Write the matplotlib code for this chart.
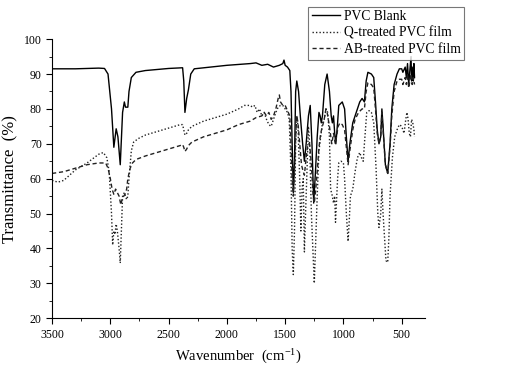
import numpy as np
import matplotlib
matplotlib.use('Agg')
import matplotlib.pyplot as plt

plt.rcParams['font.family'] = ['Liberation Serif', 'DejaVu Serif']
plt.rcParams['mathtext.fontset'] = 'stix'

# PVC blank spectrum (wavenumber, transmittance)
wn_blank = [3500, 3300, 3100, 3050, 3020, 2990, 2970, 2950, 2935, 2915, 2895, 2880, 2870, 2850,
            2840, 2820, 2780, 2700, 2500, 2380, 2370, 2360, 2345, 2330, 2310, 2280, 2000, 1800,
            1750, 1700, 1650, 1600, 1550, 1520, 1510, 1500, 1480, 1460, 1450, 1440, 1430, 1420,
            1410, 1400, 1385, 1370, 1350, 1335, 1320, 1300, 1285, 1270, 1255, 1240, 1225, 1210,
            1200, 1190, 1180, 1160, 1140, 1120, 1105, 1095, 1085, 1075, 1065, 1050, 1040, 1010,
            990, 975, 960, 945, 920, 900, 880, 860, 840, 820, 805, 790, 760, 740, 725, 710, 695,
            680, 670, 660, 640, 620, 600, 585, 565, 540, 520, 500, 490, 470, 460, 450, 440, 430,
            420, 415, 410, 400, 395, 390]
t_blank = [91.5, 91.5, 91.7, 91.6, 90, 80, 69, 74.3, 72, 64, 79, 82, 80.5, 80.5,
           85, 89, 90.5, 91, 91.6, 91.8, 88, 79, 83, 85.5, 90, 91.5, 92.5, 93,
           93.2, 92.5, 92.8, 92, 92.5, 93, 94, 92.5, 92, 91, 85, 70, 56, 65,
           85, 88, 85, 78, 70, 65, 70, 78, 81, 70, 53, 62, 72, 79,
           78, 76, 78, 87, 90, 85, 78, 76, 78, 73, 70, 76, 81, 82,
           80, 72, 65, 70, 76, 78, 80, 82, 83, 82, 88, 90.5, 90, 89, 82, 74, 70,
           72, 80, 75, 64, 61.5, 70, 80, 87, 90, 91.5, 91.5, 90.5, 92, 89, 93, 87, 91,
           95, 88, 92, 88, 93, 89]

# Q-treated PVC film
wn_q = [3500, 3450, 3400, 3350, 3300, 3200, 3100, 3060, 3030, 3010, 2990, 2980, 2970, 2960,
        2950, 2940, 2925, 2915, 2905, 2895, 2880, 2860, 2850, 2840, 2820, 2800, 2760, 2700,
        2600, 2500, 2400, 2380, 2370, 2360, 2345, 2330, 2300, 2200, 2100, 2000, 1900, 1850,
        1800, 1780, 1760, 1740, 1720, 1700, 1680, 1660, 1640, 1620, 1600, 1580, 1560, 1540,
        1520, 1500, 1480, 1465, 1450, 1440, 1430, 1420, 1410, 1400, 1390, 1375, 1365, 1355,
        1345, 1335, 1325, 1310, 1300, 1290, 1275, 1260, 1250, 1240, 1225, 1210, 1195, 1180,
        1165, 1150, 1135, 1120, 1110, 1095, 1085, 1075, 1068, 1060, 1050, 1040, 1020, 1000,
        990, 975, 960, 950, 940, 920, 900, 880, 860, 845, 830, 820, 800, 780, 760, 740, 720,
        705, 695, 680, 670, 660, 645, 635, 620, 610, 600, 580, 560, 540, 520, 500, 480, 465,
        455, 445, 435, 425, 415, 405, 395, 390]
t_q = [59.5, 59, 59.5, 61, 62.5, 64.5, 67, 67.5, 66, 62, 50, 41, 45, 44,
       47, 45, 40, 35.8, 45, 55, 56, 54, 55, 60, 68, 70.5, 71.5, 72.5,
       73.5, 74.5, 75.5, 75.5, 74, 72.5, 73, 74, 75, 76.5, 77.5, 78.5, 80, 81,
       81, 80.5, 81, 79, 80, 78, 79, 77, 75.5, 75, 77, 79, 80.5, 81,
       81, 80, 79, 77, 62, 40, 32.5, 45, 70, 78, 75, 60, 45, 57,
       60, 39, 50, 65, 75, 70, 50, 38, 30, 40, 55, 68, 72, 76,
       77, 80, 79, 72, 57, 55, 53, 55, 47.5, 53, 60, 64.5, 65, 64.5,
       60, 50, 42, 48, 55, 57, 62, 66, 67.5, 66, 65, 70, 79, 79.5, 79, 76, 63,
       50, 46, 50, 57, 50, 42, 36.5, 36, 43, 55, 66, 72, 74, 75.5, 75, 73, 77,
       79, 77, 73, 72, 77, 76, 74, 72]

# AB-treated PVC film
wn_ab = [3500, 3400, 3300, 3200, 3100, 3040, 3020, 3000, 2985, 2970, 2955, 2940, 2925, 2910,
         2900, 2885, 2875, 2860, 2850, 2830, 2810, 2780, 2700, 2600, 2500, 2400, 2380, 2370,
         2360, 2345, 2330, 2300, 2200, 2100, 2000, 1900, 1800, 1750, 1700, 1680, 1660, 1640,
         1620, 1600, 1580, 1560, 1550, 1540, 1520, 1500, 1480, 1460, 1450, 1440, 1430, 1420,
         1410, 1400, 1390, 1375, 1360, 1345, 1335, 1320, 1305, 1290, 1275, 1260, 1250, 1240,
         1225, 1210, 1195, 1180, 1165, 1150, 1140, 1120, 1100, 1085, 1070, 1060, 1045, 1030,
         1010, 990, 975, 960, 945, 920, 900, 870, 840, 820, 805, 790, 760, 740, 725, 710, 695,
         680, 670, 660, 640, 620, 600, 585, 565, 540, 520, 500, 490, 470, 460, 450, 440, 430,
         420, 410, 400, 390]
t_ab = [61.5, 62, 63, 64, 64.5, 64.5, 63, 60, 57, 55.5, 57, 56, 55, 52.5,
        54, 55, 55.5, 57, 60, 63, 64.5, 65.5, 66.5, 67.5, 68.5, 69.5, 69.8, 69,
        67.8, 68.5, 69.5, 70.5, 72, 73, 74, 75.5, 76.5, 77.5, 78, 79, 78, 79,
        77, 78, 80, 83, 84, 82, 81, 81, 79.5, 78, 70, 60, 55, 62,
        72, 78, 76, 70, 64, 62, 61, 66, 70, 70, 64, 55, 53, 56,
        62, 69, 73, 75, 77, 80, 79, 75, 70, 73, 70, 72, 75, 76,
        75.5, 74, 69, 64, 68, 74, 77, 79, 80, 80, 85, 87.5, 87, 86, 80, 73, 70,
        72, 79, 74, 64, 61.5, 69, 78, 85, 88, 88.5, 88.5, 87, 89, 87, 90, 86, 88,
        90, 87, 89, 87]

labels = ['PVC Blank', 'Q-treated PVC film', 'AB-treated PVC film']

fig = plt.figure(figsize=(5.26, 3.73), dpi=100)
ax = fig.add_axes([0.099, 0.147, 0.709, 0.748])

ax.plot(wn_blank, t_blank, color='black', lw=1.0, ls='-', label=labels[0])
ax.plot(wn_q, t_q, color='#222222', lw=1.0, ls=(0, (1, 1.5)), label=labels[1])
ax.plot(wn_ab, t_ab, color='#222222', lw=1.0, ls=(0, (3, 2)), label=labels[2])

ax.set_xlim(3500, 300)
ax.set_ylim(20, 100)
ax.set_xticks([3500, 3000, 2500, 2000, 1500, 1000, 500])
ax.set_xticks(np.arange(3250, 299, -500), minor=True)
ax.set_yticks(np.arange(20, 101, 10))
ax.set_yticks(np.arange(25, 100, 10), minor=True)
ax.spines['top'].set_visible(False)
ax.spines['right'].set_visible(False)
ax.tick_params(which='major', direction='out', length=4, labelsize=8.5)
ax.tick_params(which='minor', direction='out', length=2.5)

ax.set_xlabel('Wavenumber  (cm$^{\\mathregular{-1}}$)', fontsize=10.5)
ax.set_ylabel('Transmittance  (%)', fontsize=12)

leg = fig.legend(loc='upper right', bbox_to_anchor=(0.883, 0.982), fontsize=9.8,
                 frameon=True, fancybox=False, edgecolor='#555555', handlelength=2.1,
                 borderpad=0.25, labelspacing=0.25, handletextpad=0.3, borderaxespad=0)
leg.get_frame().set_linewidth(0.8)

fig.savefig('out.png', dpi=100)
